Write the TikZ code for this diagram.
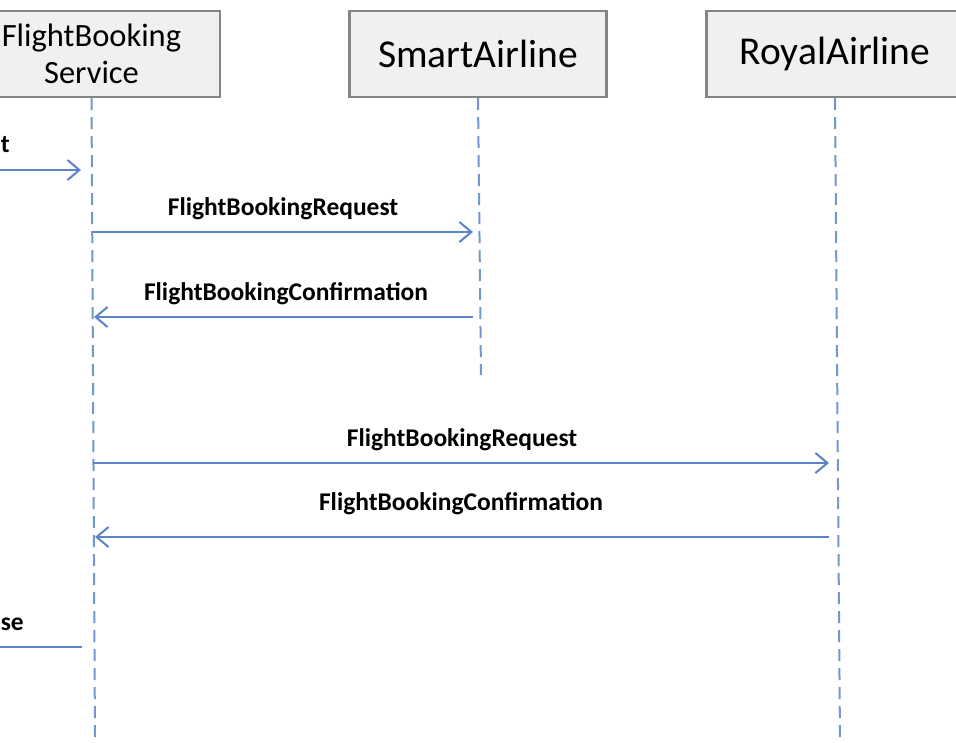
\documentclass[tikz,border=0pt]{standalone}
\usepackage{fontspec}
\setmainfont{Carlito}
\usetikzlibrary{arrows.meta,positioning}
\definecolor{lineablu}{HTML}{5B84C4}
\definecolor{vitablu}{HTML}{7398D0}
\definecolor{bordogrigio}{HTML}{858585}
\definecolor{fondogrigio}{HTML}{F0F0F0}
\tikzset{
  partecipante/.style={draw=bordogrigio, fill=fondogrigio, line width=2.4pt, minimum width=257pt, minimum height=86pt, inner sep=0pt, align=center, font=\fontsize{39.5}{40}\selectfont},
  lineavita/.style={vitablu, line width=2pt, dash pattern=on 12pt off 7pt},
  messaggio/.style={lineablu, line width=2pt, -{Straight Barb[length=12pt,width=20pt,line width=2pt]}},
  etichetta/.style={font=\bfseries\fontsize{25.5}{27}\selectfont, anchor=base, inner sep=0pt},
}
\begin{document}
\begin{tikzpicture}[x=1pt,y=-1pt]
    \useasboundingbox (0,0) rectangle (956,742);
    \fill[white] (0,0) rectangle (956,742);
    \clip (0,0) rectangle (956,742);

    %disegno partecipanti
    \node[partecipante, font=\fontsize{32.5}{37}\selectfont] (servizio) at (91.5,54) {FlightBooking\\Service};
    \node[partecipante] (smart) at (478,54) {SmartAirline};
    \node[partecipante] (royal) at (835,54) {RoyalAirline};

    %disegno linee di vita
    \coordinate (fineServizio) at (95,742);
    \coordinate (fineSmart) at (481,375);
    \coordinate (fineRoyal) at (840,742);
    \draw[lineavita] (servizio.south) -- (fineServizio);
    \draw[lineavita] (smart.south) -- (fineSmart);
    \draw[lineavita] (royal.south) -- (fineRoyal);

    % punti dei messaggi
    \coordinate (cliente1) at (-10,170);
    \coordinate (servizio1) at (81,170);
    \coordinate (servizio2) at (93,232);
    \coordinate (smart2) at (473,232);
    \coordinate (smart3) at (473,317);
    \coordinate (servizio3) at (94,317);
    \coordinate (servizio4) at (93,463);
    \coordinate (royal4) at (829,463);
    \coordinate (royal5) at (829,537);
    \coordinate (servizio5) at (95,537);
    \coordinate (servizio6) at (82,647);
    \coordinate (cliente6) at (-40,647);

    %disegno messaggi
    \draw[messaggio] (cliente1) -- (servizio1);
    \draw[messaggio] (servizio2) -- (smart2);
    \draw[messaggio] (smart3) -- (servizio3);
    \draw[messaggio] (servizio4) -- (royal4);
    \draw[messaggio] (royal5) -- (servizio5);
    \draw[messaggio] (servizio6) -- (cliente6);

    % etichette
    \node[etichetta, anchor=base east] (etichetta1) at (10,152) {t};
    \node[etichetta] (etichetta2) at (283,215) {FlightBookingRequest};
    \node[etichetta] (etichetta3) at (286,300) {FlightBookingConfirmation};
    \node[etichetta] (etichetta4) at (462,446) {FlightBookingRequest};
    \node[etichetta] (etichetta5) at (461,510) {FlightBookingConfirmation};
    \node[etichetta, anchor=base east] (etichetta6) at (24,630) {se};
\end{tikzpicture}
\end{document}
